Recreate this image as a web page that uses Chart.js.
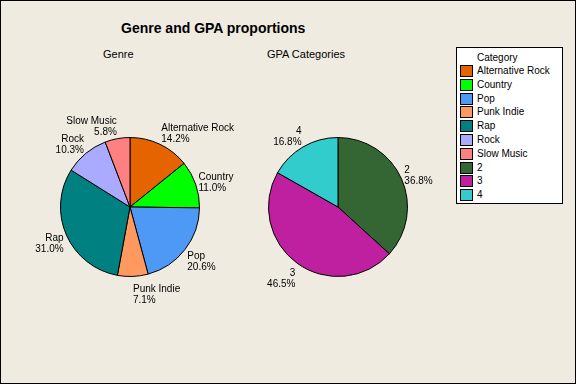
<!DOCTYPE html>
<html>
<head>
<meta charset="utf-8">
<script src="https://cdn.jsdelivr.net/npm/chart.js@4"></script>
<style>
  html, body { margin: 0; padding: 0; }
  body { width: 576px; height: 384px; overflow: hidden; }
  #frame {
    position: relative; width: 576px; height: 384px; box-sizing: border-box;
    border: 1px solid #000; background: #EFEBE0;
    font-family: "Liberation Sans", Arial, sans-serif; color: #000;
  }
  .txt { position: absolute; white-space: nowrap; }
  #title { left: 120px; top: 19px; font-size: 14px; font-weight: bold; }
  #sub1 { left: 102px; top: 47px; font-size: 11px; }
  #sub2 { left: 266px; top: 47px; font-size: 11px; }
  canvas { position: absolute; }
  #legend {
    position: absolute; left: 455px; top: 46px; width: 107px; height: 157px;
    box-sizing: border-box; border: 1px solid #000; background: #fff; font-size: 10px;
  }
  #legend .head { position: absolute; left: 20px; top: 4px; }
  #legend .row { position: absolute; left: 3px; height: 12px; }
  #legend .sw { position: absolute; left: 0; top: 0; width: 11px; height: 10px; border: 1px solid #000; }
  #legend .lb { position: absolute; left: 17px; top: 0; white-space: nowrap; }
</style>
</head>
<body>
<div id="frame">
  <div id="title" class="txt">Genre and GPA proportions</div>
  <div id="sub1" class="txt">Genre</div>
  <div id="sub2" class="txt">GPA Categories</div>
  <canvas id="genre-pie" width="250" height="220" style="left:-1px; top:99px;"></canvas>
  <canvas id="gpa-pie" width="200" height="220" style="left:249px; top:99px;"></canvas>
  <div id="legend"><div class="head">Category</div></div>
</div>
<script>
// --- dados ---
const genreLabels = ['Alternative Rock', 'Country', 'Pop', 'Punk Indie', 'Rap', 'Rock', 'Slow Music'];
const genreValues = [14.2, 11.0, 20.6, 7.1, 31.0, 10.3, 5.8];
const genreColors = ['#E66400', '#00FF00', '#4D99F5', '#FF9960', '#008080', '#AAAAFF', '#FF8080'];

const gpaLabels = ['2', '3', '4'];
const gpaValues = [36.8, 46.5, 16.8];
const gpaColors = ['#336633', '#BF20A0', '#33CCCC'];

// rótulos fora das fatias (nome + percentagem)
const sliceLabels = {
    id: 'sliceLabels',
    afterDatasetsDraw(chart) {
        const ctx = chart.ctx;
        const meta = chart.getDatasetMeta(0);
        const values = chart.data.datasets[0].data;
        const lineH = 11;
        ctx.save();
        ctx.font = '10px "Liberation Sans", Arial, sans-serif';
        ctx.fillStyle = '#000';
        ctx.textBaseline = 'top';
        meta.data.forEach((arc, i) => {
            const { x, y, startAngle, endAngle, outerRadius } = arc.getProps(['x', 'y', 'startAngle', 'endAngle', 'outerRadius'], true);
            const mid = (startAngle + endAngle) / 2;
            const px = x + Math.cos(mid) * (outerRadius + 3);
            // vertical: elipse um pouco maior que a fatia
            const top = y + Math.sin(mid) * (outerRadius + 15) - 7.5;
            ctx.textAlign = Math.cos(mid) >= 0 ? 'left' : 'right';
            ctx.fillText(chart.data.labels[i], px, top);
            ctx.fillText(values[i].toFixed(1) + '%', px, top + lineH);
        });
        ctx.restore();
    }
};

function makePie(canvasId, labels, values, colors, padding) {
    const ctx = document.getElementById(canvasId).getContext('2d');
    return new Chart(ctx, {
        type: 'pie',
        data: {
            labels: labels,
            datasets: [{
                data: values,
                backgroundColor: colors,
                borderColor: '#000',
                borderWidth: 1
            }]
        },
        options: {
            responsive: false,
            animation: false,
            events: [],
            layout: { padding: padding },
            plugins: { legend: { display: false }, tooltip: { enabled: false } }
        },
        plugins: [sliceLabels]
    });
}

makePie('genre-pie', genreLabels, genreValues, genreColors, { left: 60, right: 50, top: 37, bottom: 43 });
makePie('gpa-pie', gpaLabels, gpaValues, gpaColors, { left: 18, right: 42, top: 37, bottom: 43 });

// legenda partilhada
const legend = document.getElementById('legend');
const allLabels = genreLabels.concat(gpaLabels);
const allColors = genreColors.concat(gpaColors);
allLabels.forEach((label, i) => {
    const row = document.createElement('div');
    row.className = 'row';
    row.style.top = (17 + i * 13.8) + 'px';
    row.innerHTML = `<div class="sw" style="background:${allColors[i]}"></div><div class="lb">${label}</div>`;
    legend.appendChild(row);
});
</script>
</body>
</html>
